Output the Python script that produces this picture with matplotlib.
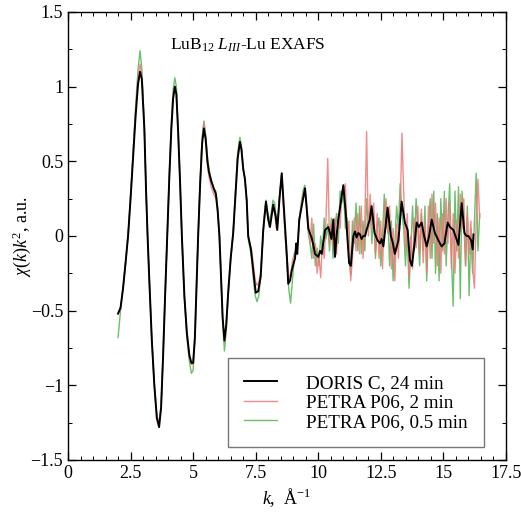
import numpy as np
import matplotlib
matplotlib.use("Agg")
import matplotlib.pyplot as plt
from matplotlib.ticker import MultipleLocator

plt.rcParams['font.family'] = ['Liberation Serif', 'DejaVu Serif']
plt.rcParams['mathtext.fontset'] = 'custom'
plt.rcParams['mathtext.rm'] = 'Liberation Serif'
plt.rcParams['mathtext.it'] = 'Liberation Serif:italic'

# smooth part (k < 7.2), common k for all three spectra
k_smooth = [2.0, 2.1, 2.2, 2.3, 2.4, 2.5, 2.6, 2.7, 2.8, 2.88,
            2.95, 3.05, 3.12, 3.18, 3.25, 3.35, 3.45, 3.55, 3.64, 3.72,
            3.8, 3.88, 3.97, 4.05, 4.13, 4.2, 4.27, 4.33, 4.4, 4.48,
            4.55, 4.65, 4.75, 4.85, 4.93, 5.0, 5.07, 5.14, 5.2, 5.28,
            5.36, 5.43, 5.5, 5.57, 5.63, 5.72, 5.82, 5.91, 5.98, 6.05,
            6.12, 6.18, 6.25, 6.32, 6.4, 6.5, 6.6, 6.7, 6.78, 6.87,
            6.93, 7.0, 7.07, 7.14]

doris_smooth = [-0.52, -0.48, -0.35, -0.18, 0.0, 0.25, 0.52, 0.8, 1.02, 1.10,
                1.05, 0.72, 0.3, 0.0, -0.3, -0.7, -1.0, -1.22, -1.28, -1.15,
                -0.8, -0.4, 0.02, 0.4, 0.72, 0.92, 1.0, 0.95, 0.7, 0.35,
                0.0, -0.4, -0.65, -0.8, -0.85, -0.85, -0.68, -0.32, 0.0, 0.35,
                0.62, 0.72, 0.65, 0.5, 0.43, 0.37, 0.32, 0.28, 0.17, 0.0,
                -0.3, -0.55, -0.70, -0.6, -0.38, -0.15, 0.02, 0.3, 0.52, 0.63,
                0.58, 0.45, 0.38, 0.24]

petra2_smooth = [-0.52, -0.48, -0.35, -0.18, 0.0, 0.26, 0.54, 0.83, 1.06, 1.15,
                 1.08, 0.72, 0.3, 0.0, -0.3, -0.7, -1.0, -1.2, -1.25, -1.14,
                 -0.8, -0.4, 0.02, 0.4, 0.73, 0.94, 1.0, 0.96, 0.7, 0.35,
                 0.0, -0.4, -0.65, -0.8, -0.86, -0.86, -0.68, -0.32, 0.0, 0.36,
                 0.65, 0.76, 0.66, 0.48, 0.4, 0.33, 0.28, 0.25, 0.16, 0.0,
                 -0.3, -0.55, -0.70, -0.6, -0.38, -0.15, 0.02, 0.3, 0.53, 0.63,
                 0.58, 0.45, 0.38, 0.24]

petra05_smooth = [-0.68, -0.5, -0.35, -0.18, 0.0, 0.26, 0.55, 0.86, 1.12, 1.24,
                  1.12, 0.74, 0.3, 0.0, -0.3, -0.7, -1.0, -1.21, -1.26, -1.14,
                  -0.8, -0.4, 0.02, 0.42, 0.76, 0.98, 1.06, 1.0, 0.72, 0.35,
                  0.0, -0.42, -0.68, -0.84, -0.92, -0.9, -0.7, -0.32, 0.0, 0.36,
                  0.66, 0.77, 0.68, 0.54, 0.45, 0.38, 0.32, 0.3, 0.18, 0.0,
                  -0.32, -0.58, -0.77, -0.64, -0.4, -0.15, 0.02, 0.32, 0.56, 0.66,
                  0.6, 0.46, 0.38, 0.24]

# DORIS C, noisy part
k_doris = [7.2, 7.31, 7.4, 7.5, 7.6, 7.7, 7.8, 7.91, 8.0, 8.07,
           8.2, 8.3, 8.36, 8.45, 8.54, 8.64, 8.74, 8.8, 8.87, 8.94,
           9.07, 9.12, 9.16, 9.24, 9.34, 9.47, 9.53, 9.6, 9.73, 9.8,
           9.87, 10.0, 10.07, 10.14, 10.27, 10.4, 10.53, 10.6, 10.67, 10.73,
           10.8, 10.93, 11.0, 11.1, 11.23, 11.3, 11.4, 11.47, 11.53, 11.6,
           11.67, 11.73, 11.8, 11.87, 11.93, 12.0, 12.06, 12.13, 12.25, 12.37,
           12.47, 12.53, 12.6, 12.77, 12.9, 12.97, 13.06, 13.2, 13.33, 13.46,
           13.57, 13.66, 13.74, 13.86, 13.93, 14.02, 14.13, 14.23, 14.33, 14.43,
           14.53, 14.66, 14.8, 14.93, 15.04, 15.17, 15.26, 15.4, 15.5, 15.6,
           15.73, 15.84, 15.92, 16.0, 16.11, 16.17, 16.2]
doris_noisy = [0.0, -0.09, -0.23, -0.38, -0.37, -0.27, 0.04, 0.23, 0.11, 0.06,
               0.21, 0.13, 0.04, 0.25, 0.42, 0.15, -0.12, -0.32, -0.30, -0.23,
               -0.15, -0.05, -0.12, 0.11, 0.2, 0.32, 0.2, 0.05, -0.01, -0.06,
               -0.12, -0.14, -0.1, -0.12, 0.04, 0.06, -0.02, 0.11, -0.14, 0.0,
               0.11, 0.26, 0.34, 0.15, -0.18, -0.2, 0.0, 0.03, -0.01, 0.02,
               0.01, -0.02, 0.0, 0.0, 0.04, 0.08, 0.11, 0.2, 0.02, -0.03,
               -0.05, -0.02, -0.07, 0.19, 0.0, -0.04, -0.12, -0.03, 0.23, 0.09,
               0.04, -0.16, -0.2, -0.03, 0.09, 0.06, 0.09, 0.0, -0.07, 0.0,
               0.11, 0.02, -0.03, -0.07, -0.05, 0.09, 0.06, 0.04, -0.01, -0.06,
               0.22, 0.02, 0.0, 0.0, -0.03, -0.09, 0.01]

# PETRA P06 2 min, noisy part (k from 7.2 to 16.45)
petra2_noisy = [0.0, -0.05, -0.1, -0.2, -0.3, -0.33, -0.31, -0.25, -0.07, 0.1,
                0.22, 0.15, 0.06, 0.12, 0.19, 0.15, 0.05, 0.12, 0.3, 0.38,
                0.18, -0.02, -0.15, -0.27, -0.27, -0.17, -0.12, -0.1, -0.04, 0.1,
                0.2, 0.27, 0.3, 0.2, 0.1, -0.05, 0.12, -0.15, -0.05, -0.25,
                -0.12, -0.28, -0.05, -0.15, 0.1, 0.52, -0.05, 0.08, -0.08, 0.12,
                -0.12, 0.15, 0.05, 0.3, 0.28, 0.35, 0.0, 0.1, -0.3, -0.15,
                0.12, -0.1, 0.15, -0.12, 0.2, -0.15, 0.1, 0.70, 0.0, 0.28,
                0.05, 0.22, -0.12, 0.15, -0.15, 0.1, -0.22, 0.12, 0.25, 0.02,
                0.2, -0.22, 0.05, -0.3, 0.08, -0.15, 0.18, 0.69, 0.28, -0.08,
                0.15, -0.28, 0.0, -0.22, 0.12, -0.08, 0.2, -0.12, 0.18, -0.18,
                0.1, -0.25, 0.2, -0.15, 0.28, -0.05, 0.22, -0.2, 0.12, -0.25,
                0.15, -0.12, 0.25, -0.05, 0.22, -0.22, 0.15, -0.25, 0.1, -0.15,
                0.28, 0.05, 0.25, -0.2, 0.15, -0.12, 0.1, -0.22, -0.35, 0.1,
                0.38, 0.12]

# PETRA P06 0.5 min, noisy part (k from 7.2 to 16.45)
petra05_noisy = [-0.02, -0.08, -0.16, -0.3, -0.4, -0.44, -0.4, -0.28, -0.08, 0.12,
                 0.24, 0.16, 0.1, 0.15, 0.24, 0.22, 0.1, 0.15, 0.3, 0.42,
                 0.2, 0.0, -0.2, -0.36, -0.45, -0.3, -0.16, -0.12, -0.05, 0.12,
                 0.22, 0.3, 0.34, 0.22, 0.02, -0.05, -0.15, 0.08, -0.2, -0.08,
                 -0.2, 0.0, -0.1, 0.12, -0.02, 0.08, -0.1, 0.12, -0.15, 0.05,
                 0.15, -0.05, 0.3, 0.22, 0.28, 0.05, 0.12, -0.15, -0.26, 0.1,
                 -0.05, 0.22, -0.1, 0.2, -0.12, 0.1, -0.1, 0.25, 0.05, 0.18,
                 -0.05, 0.15, -0.15, 0.05, 0.12, -0.2, 0.0, 0.28, 0.05, 0.15,
                 -0.2, 0.1, -0.3, -0.05, 0.2, 0.05, 0.35, 0.15, 0.05, -0.2,
                 0.05, -0.35, -0.1, 0.2, -0.1, 0.25, 0.05, -0.2, 0.15, -0.1,
                 0.2, -0.3, 0.05, 0.25, -0.15, 0.3, -0.25, 0.15, -0.3, 0.25,
                 -0.1, 0.3, -0.2, 0.1, 0.35, -0.15, -0.47, 0.3, -0.1, 0.33,
                 -0.42, 0.3, 0.1, -0.2, 0.2, -0.4, 0.05, -0.25, 0.1, 0.42,
                 -0.1, 0.15]

k_doris_all = k_smooth + k_doris
y_doris = doris_smooth + doris_noisy
k_p2 = k_smooth + list(np.linspace(7.2, 16.45, len(petra2_noisy)))
y_p2 = petra2_smooth + petra2_noisy
k_p05 = k_smooth + list(np.linspace(7.2, 16.45, len(petra05_noisy)))
y_p05 = petra05_smooth + petra05_noisy

fig = plt.figure(figsize=(5.21, 5.12), dpi=100)
ax = fig.add_axes([0.1305, 0.1016, 0.8407, 0.875])

ax.plot(k_p05, y_p05, color='#5cb85c', lw=1.0, alpha=0.9, label='PETRA P06, 0.5 min')
ax.plot(k_p2, y_p2, color='#f07878', lw=1.0, alpha=0.85, label='PETRA P06, 2 min')
ax.plot(k_doris_all, y_doris, color='black', lw=1.4, label='DORIS C, 24 min')

ax.set_xlim(0, 17.5)
ax.set_ylim(-1.5, 1.5)
ax.xaxis.set_minor_locator(MultipleLocator(0.5))
ax.yaxis.set_minor_locator(MultipleLocator(0.25))
ax.set_xticks([0, 2.5, 5, 7.5, 10, 12.5, 15, 17.5])
ax.set_xticklabels(['0', '2.5', '5', '7.5', '10', '12.5', '15', '17.5'])
ax.set_yticks([-1.5, -1, -0.5, 0, 0.5, 1, 1.5])
ax.set_yticklabels(['\u22121.5', '\u22121', '\u22120.5', '0', '0.5', '1', '1.5'])
ax.tick_params(which='both', direction='in', top=True, right=True, labelsize=13)
ax.tick_params(which='major', length=6, width=0.9)
ax.tick_params(which='minor', length=3, width=0.7)
for s in ax.spines.values():
    s.set_linewidth(1.0)

ax.set_xlabel('$k$,  \u00c5$^{-1}$', fontsize=13, labelpad=3)
ax.set_ylabel('$\\chi(k)k^2$, a.u.', fontsize=13)
ax.yaxis.set_label_coords(-0.08, 0.5)
ax.text(0.41, 0.925, 'LuB$_{12}$ $L_{III}$-Lu EXAFS', transform=ax.transAxes,
        ha='center', va='center', fontsize=12.5)

h, l = ax.get_legend_handles_labels()
leg = ax.legend(h[::-1], l[::-1], loc='lower left', bbox_to_anchor=(0.365, 0.029),
                fontsize=13.8, frameon=True, fancybox=False, edgecolor='#555555',
                handlelength=1.7, borderpad=0.85, labelspacing=0.1,
                handletextpad=1.55, borderaxespad=0)
leg.get_frame().set_linewidth(1.0)

fig.savefig('out.png', dpi=100)
